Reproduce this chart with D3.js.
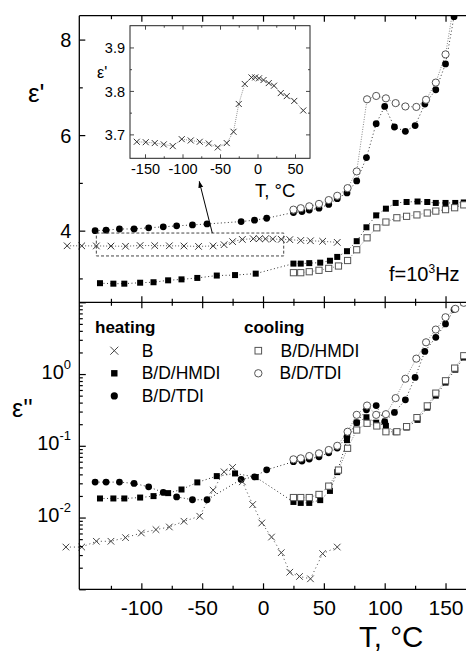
<!DOCTYPE html>
<html>
<head>
<meta charset="utf-8">
<script src="https://cdn.jsdelivr.net/npm/d3@7"></script>
<style>
  html, body { margin: 0; padding: 0; background: #fff; }
  svg { display: block; font-family: "Liberation Sans", Arial, sans-serif; }
</style>
</head>
<body>
<svg id="chart" width="466" height="654"></svg>
<script>
// ---------- data ----------
// B, heating: real part (also shown in the inset)
const tB1 = [-161,-149,-137,-125,-113,-101,-89,-77,-65,-53,-41,-32,-25,-17,-8,-3,2,8,15,22,31,39,49,61];
const epsB1 = [3.683,3.682,3.680,3.677,3.673,3.689,3.686,3.683,3.679,3.670,3.680,3.706,3.770,3.816,3.831,3.831,3.829,3.825,3.818,3.812,3.795,3.788,3.777,3.755];
// B, heating: loss
const tB2 = [-162,-149,-137,-125,-113,-100,-88,-77,-65,-52,-41,-32,-25,-17,-8.5,-1,7,15,22,30,39,49,61];
const epsB2 = [0.00388,0.00388,0.00467,0.00467,0.00525,0.00609,0.00679,0.00739,0.00888,0.01043,0.0241,0.0434,0.0500,0.0315,0.0152,0.0084,0.00535,0.00324,0.00173,0.00151,0.00140,0.00314,0.00388];

// B/D/TDI, heating
const tTDIh = [-138,-129,-118,-106,-94,-82,-71,-58,-46,-18,-7,3,25,32,38,46,54,61,69,77,85,93,100,108,117,125,133,142,150,157];
const eps1TDIh = [4.00,4.01,4.035,4.035,4.06,4.08,4.10,4.12,4.14,4.19,4.22,4.26,4.38,4.40,4.43,4.47,4.55,4.67,4.79,5.04,5.53,6.24,6.60,6.17,6.08,6.20,6.65,6.95,7.49,8.48];
const eps2TDIh = [0.0312,0.0312,0.0312,0.0299,0.0268,0.0224,0.0194,0.0177,0.0177,0.0340,0.0370,0.0463,0.0600,0.0613,0.0654,0.0704,0.0800,0.0931,0.134,0.211,0.317,0.364,0.217,0.292,0.437,0.896,2.07,3.25,5.00,7.93];

// B/D/HMDI, heating
const tHMDIh = [-134,-123,-114,-101,-90,-78,-67,-54,-38,-23,-6,25,31,38,47,55,61,69,77,85,93,101,109,118,127,135,142,150,158,165];
const eps1HMDIh = [2.90,2.89,2.89,2.91,2.92,2.96,2.98,3.01,3.06,3.07,3.10,3.31,3.31,3.32,3.33,3.37,3.45,3.57,3.78,4.07,4.32,4.46,4.58,4.60,4.61,4.60,4.58,4.58,4.58,4.59];
const eps2HMDIh = [0.01845,0.01845,0.01845,0.0190,0.0199,0.0219,0.0246,0.0309,0.0378,0.0412,0.0366,0.0165,0.0160,0.0160,0.0175,0.0235,0.043,0.12,0.21,0.25,0.21,0.19,0.155,0.18,0.23,0.34,0.50,0.76,1.15,1.7];

// B/D/HMDI, cooling
const tHMDIc = [25,31,38,46,54,62,69.5,77,85.5,93.5,101,110,118,126.5,135,142,150,157.5,165];
const eps1HMDIc = [3.12,3.12,3.14,3.17,3.21,3.26,3.375,3.60,3.85,4.06,4.18,4.27,4.30,4.33,4.37,4.41,4.44,4.48,4.54];
const eps2HMDIc = [0.0190,0.0190,0.0190,0.0210,0.0274,0.0459,0.0923,0.166,0.206,0.189,0.157,0.157,0.185,0.247,0.360,0.542,0.806,1.21,1.80];

// B/D/TDI, cooling
const tTDIc = [25,31,38,46,54,61,69.5,77,85.5,93,101,109,117,126,134,142,150,158,165];
const eps1TDIc = [4.44,4.47,4.51,4.56,4.64,4.73,4.89,5.24,6.75,6.82,6.77,6.67,6.60,6.59,6.74,7.10,7.69,8.9,9.6];
const eps2TDIc = [0.0648,0.0669,0.0720,0.0785,0.0874,0.100,0.157,0.270,0.364,0.27,0.276,0.462,0.860,1.64,2.77,4.17,6.19,8.11,9.84];

// axis ticks
const xMajor = [-100,-50,0,50,100,150];
const xMinor = [-125,-75,-25,25,75,125];
const y1Major = [4,6,8];
const y1Minor = [3,5,7];
const y2Labeled = [1e-2,1e-1,1];
const insetXMajor = [-150,-100,-50,0,50];
const insetXMinor = [-125,-75,-25,25];
const insetYMajor = [3.7,3.8,3.9];
const insetYMinor = [3.75,3.85];

// ---------- layout ----------
const svg = d3.select("#chart");
const L = 79.3, TOP = 15.7, MID = 302.3, BOT = 589.3;

const x = d3.scaleLinear().domain([-151, 175]).range([L, L + 326 * 1.2167]);
const yTop = d3.scaleLinear().domain([2.5, 8.5]).range([MID, TOP]);
const yBot = d3.scaleLog().domain([1e-3, 10]).range([BOT, MID]);

const xi = d3.scaleLinear().domain([-170, 70]).range([130, 310]);
const yi = d3.scaleLinear().domain([3.645, 3.95]).range([158.3, 25.7]);

const defs = svg.append("defs");
defs.append("clipPath").attr("id", "clipTop")
  .append("rect").attr("x", 0).attr("y", TOP).attr("width", 466).attr("height", MID - TOP);
defs.append("clipPath").attr("id", "clipBot")
  .append("rect").attr("x", 0).attr("y", MID).attr("width", 466).attr("height", BOT - MID + 10);

// marker helpers
function cross(g, pts, s, color) {
  g.selectAll(null).data(pts).enter().append("path")
    .attr("d", d => `M${d[0]-s},${d[1]-s}L${d[0]+s},${d[1]+s}M${d[0]-s},${d[1]+s}L${d[0]+s},${d[1]-s}`)
    .attr("stroke", color).attr("stroke-width", 1).attr("fill", "none");
}
function squares(g, pts, s, open) {
  g.selectAll(null).data(pts).enter().append("rect")
    .attr("x", d => d[0] - s / 2).attr("y", d => d[1] - s / 2)
    .attr("width", s).attr("height", s)
    .attr("fill", open ? "#fff" : "#000")
    .attr("stroke", open ? "#555" : "none").attr("stroke-width", 1);
}
function circles(g, pts, r, open) {
  g.selectAll(null).data(pts).enter().append("circle")
    .attr("cx", d => d[0]).attr("cy", d => d[1]).attr("r", r)
    .attr("fill", open ? "#fff" : "#000")
    .attr("stroke", open ? "#555" : "none").attr("stroke-width", 1);
}
function dotted(g, pts, color, dash) {
  g.append("path").attr("d", d3.line()(pts))
    .attr("fill", "none").attr("stroke", color).attr("stroke-width", 1)
    .attr("stroke-dasharray", dash);
}
const pts = (ts, vs, sx, sy) => ts.map((t, i) => [sx(t), sy(vs[i])]);

// ---------- upper panel: eps' ----------
const gTop = svg.append("g").attr("clip-path", "url(#clipTop)");
const pB1 = pts(tB1, epsB1, x, yTop);
const pTDIh1 = pts(tTDIh, eps1TDIh, x, yTop);
const pHMDIh1 = pts(tHMDIh, eps1HMDIh, x, yTop);
const pHMDIc1 = pts(tHMDIc, eps1HMDIc, x, yTop);
const pTDIc1 = pts(tTDIc, eps1TDIc, x, yTop);
dotted(gTop, pB1, "#555", "1,2");
dotted(gTop, pTDIh1, "#333", "1,2.5");
dotted(gTop, pHMDIh1, "#333", "1,2.5");
dotted(gTop, pHMDIc1, "#888", "1,1.5");
dotted(gTop, pTDIc1, "#888", "1,1.5");
squares(gTop, pHMDIh1, 6, false);
circles(gTop, pTDIh1, 3.4, false);
squares(gTop, pHMDIc1, 6.2, true);
circles(gTop, pTDIc1, 3.6, true);
cross(gTop, pB1, 3.3, "#333");

// dashed frame around the region that is enlarged in the inset, and its arrow
svg.append("rect")
  .attr("x", x(-137)).attr("y", yTop(3.95))
  .attr("width", x(17) - x(-137)).attr("height", yTop(3.47) - yTop(3.95))
  .attr("fill", "none").attr("stroke", "#444").attr("stroke-width", 1)
  .attr("stroke-dasharray", "3,2");
defs.append("marker").attr("id", "arrowHead").attr("viewBox", "0 0 10 10")
  .attr("refX", 9).attr("refY", 5).attr("markerWidth", 7).attr("markerHeight", 7)
  .attr("orient", "auto")
  .append("path").attr("d", "M0,1.5L10,5L0,8.5z").attr("fill", "#000");
svg.append("line")
  .attr("x1", x(-41.7)).attr("y1", yTop(3.95))
  .attr("x2", x(-52.4)).attr("y2", yTop(5.03))
  .attr("stroke", "#000").attr("stroke-width", 1)
  .attr("marker-end", "url(#arrowHead)");

// ---------- lower panel: eps'' ----------
const gBot = svg.append("g").attr("clip-path", "url(#clipBot)");
const pB2 = pts(tB2, epsB2, x, yBot);
const pTDIh2 = pts(tTDIh, eps2TDIh, x, yBot);
const pHMDIh2 = pts(tHMDIh, eps2HMDIh, x, yBot);
const pHMDIc2 = pts(tHMDIc, eps2HMDIc, x, yBot);
const pTDIc2 = pts(tTDIc, eps2TDIc, x, yBot);
dotted(gBot, pB2, "#444", "1,3");
dotted(gBot, pTDIh2, "#333", "1,2.5");
dotted(gBot, pHMDIh2, "#333", "1,2.5");
dotted(gBot, pHMDIc2, "#888", "1,1.5");
dotted(gBot, pTDIc2, "#888", "1,1.5");
squares(gBot, pHMDIh2, 6, false);
circles(gBot, pTDIh2, 3.4, false);
squares(gBot, pHMDIc2, 6.2, true);
circles(gBot, pTDIc2, 3.6, true);
cross(gBot, pB2, 3.3, "#444");

// ---------- axes ----------
const axisColor = "#000";
function frameLine(x1, y1, x2, y2, w) {
  svg.append("line").attr("x1", x1).attr("y1", y1).attr("x2", x2).attr("y2", y2)
    .attr("stroke", axisColor).attr("stroke-width", w || 1.3);
}
function styleAxis(g, size) {
  g.select(".domain").remove();
  g.selectAll(".tick line").attr("stroke", axisColor).attr("stroke-width", 1.2);
  g.selectAll("text").attr("fill", "#000").attr("font-size", size)
    .attr("font-family", '"Liberation Sans", Arial, sans-serif');
}
frameLine(L, TOP, L, BOT);
frameLine(L, TOP, 466, TOP);
frameLine(L, MID, 466, MID);
frameLine(L, BOT, 466, BOT);

// x ticks on every horizontal frame line (pointing into the panels)
[[BOT, d3.axisBottom], [MID, d3.axisBottom], [MID, d3.axisTop], [TOP, d3.axisTop]].forEach(([yy, ax], i) => {
  const gMaj = svg.append("g").attr("transform", `translate(0,${yy})`)
    .call(ax(x).tickValues(xMajor).tickSize(-6).tickSizeOuter(0)
      .tickPadding(10.5).tickFormat(i === 0 ? (d => String(d)) : () => ""));
  styleAxis(gMaj, 21);
  const gMin = svg.append("g").attr("transform", `translate(0,${yy})`)
    .call(ax(x).tickValues(xMinor).tickSize(-3.5).tickSizeOuter(0).tickFormat(() => ""));
  styleAxis(gMin, 10);
});

// upper panel y axis
const gY1 = svg.append("g").attr("transform", `translate(${L},0)`)
  .call(d3.axisLeft(yTop).tickValues(y1Major).tickSize(-6).tickSizeOuter(0).tickPadding(8).tickFormat(d => String(d)));
styleAxis(gY1, 20);
gY1.selectAll("text").attr("dy", "0.36em");
const gY1m = svg.append("g").attr("transform", `translate(${L},0)`)
  .call(d3.axisLeft(yTop).tickValues(y1Minor).tickSize(-3.5).tickSizeOuter(0).tickFormat(() => ""));
styleAxis(gY1m, 10);

// lower panel log y axis
const logMajor = [1e-3, 1e-2, 1e-1, 1, 10];
const logMinor = [];
[1e-3, 1e-2, 1e-1, 1].forEach(dec => { for (let k = 2; k <= 9; k++) logMinor.push(dec * k); });
const gY2 = svg.append("g").attr("transform", `translate(${L},0)`)
  .call(d3.axisLeft(yBot).tickValues(logMajor).tickSize(-6.5).tickSizeOuter(0).tickFormat(() => ""));
styleAxis(gY2, 10);
const gY2m = svg.append("g").attr("transform", `translate(${L},0)`)
  .call(d3.axisLeft(yBot).tickValues(logMinor).tickSize(-3.5).tickSizeOuter(0).tickFormat(() => ""));
styleAxis(gY2m, 10);
y2Labeled.forEach(v => {
  const t = svg.append("text").attr("x", 71).attr("y", yBot(v) + 4.5)
    .attr("text-anchor", "end").attr("font-size", 20);
  t.append("tspan").text("10");
  t.append("tspan").attr("dy", -10).attr("font-size", 13).text(String(Math.round(Math.log10(v))));
});

// axis titles
svg.append("text").attr("x", 28).attr("y", 102).attr("font-size", 26).text("ε'");
svg.append("text").attr("x", 12).attr("y", 417).attr("font-size", 25).text("ε''");
svg.append("text").attr("x", 359).attr("y", 647).attr("font-size", 29.5).text("T, °C");

// frequency note
const fTxt = svg.append("text").attr("x", 389).attr("y", 281).attr("font-size", 20);
fTxt.append("tspan").text("f=10");
fTxt.append("tspan").attr("dy", -8).attr("font-size", 12).text("3");
fTxt.append("tspan").attr("dy", 8).text("Hz");

// ---------- legend ----------
function legendBlock(x0, title, rows) {
  svg.append("text").attr("x", x0).attr("y", 333.3).attr("font-size", 17)
    .attr("font-weight", "bold").text(title);
  rows.forEach((r, i) => {
    const yy = 356.7 + i * 22.6;
    const mx = r.mx, my = yy - 6;
    const g = svg.append("g");
    if (r.kind === "cross") cross(g, [[mx, my]], 4, "#444");
    if (r.kind === "sq") squares(g, [[mx, my]], 6.4, false);
    if (r.kind === "ci") circles(g, [[mx, my]], 3.6, false);
    if (r.kind === "osq") squares(g, [[mx, my]], 6.6, true);
    if (r.kind === "oci") circles(g, [[mx, my]], 3.7, true);
    svg.append("text").attr("x", r.tx).attr("y", yy).attr("font-size", 17.5).text(r.label);
  });
}
legendBlock(95, "heating", [
  { kind: "cross", mx: 114.3, tx: 141.7, label: "B" },
  { kind: "sq", mx: 114.3, tx: 141.7, label: "B/D/HMDI" },
  { kind: "ci", mx: 114.3, tx: 141.7, label: "B/D/TDI" }
]);
legendBlock(244, "cooling", [
  { kind: "osq", mx: 258.3, tx: 280.5, label: "B/D/HMDI" },
  { kind: "oci", mx: 258.3, tx: 279.5, label: "B/D/TDI" }
]);

// ---------- inset: eps' of B ----------
const gIn = svg.append("g");
gIn.append("rect").attr("x", 130).attr("y", 25.7).attr("width", 180).attr("height", 132.6)
  .attr("fill", "#fff").attr("stroke", "#222").attr("stroke-width", 1);
const pBi = pts(tB1, epsB1, xi, yi);
dotted(gIn, pBi, "#999", "1,1");
cross(gIn, pBi, 3, "#333");

function insetAxis(ax, scale, vals, size, tr, fmt) {
  const g = gIn.append("g").attr("transform", tr)
    .call(ax(scale).tickValues(vals).tickSize(-size).tickSizeOuter(0)
      .tickPadding(5).tickFormat(fmt || (() => "")));
  styleAxis(g, 14.5);
  g.selectAll(".tick line").attr("stroke-width", 0.9).attr("stroke", "#333");
  return g;
}
insetAxis(d3.axisBottom, xi, insetXMajor, 4, "translate(0,158.3)", d => String(d));
insetAxis(d3.axisBottom, xi, insetXMinor, 2, "translate(0,158.3)");
insetAxis(d3.axisTop, xi, insetXMajor, 4, "translate(0,25.7)");
insetAxis(d3.axisTop, xi, insetXMinor, 2, "translate(0,25.7)");
const gyi = insetAxis(d3.axisLeft, yi, insetYMajor, 4, "translate(130,0)", d => d.toFixed(1));
gyi.selectAll("text").attr("dy", "0.36em");
insetAxis(d3.axisLeft, yi, insetYMinor, 2, "translate(130,0)");
insetAxis(d3.axisRight, yi, insetYMajor, 4, "translate(310,0)");
insetAxis(d3.axisRight, yi, insetYMinor, 2, "translate(310,0)");
gIn.append("text").attr("x", 97).attr("y", 78).attr("font-size", 16).text("ε'");
gIn.append("text").attr("x", 255).attr("y", 197).attr("font-size", 18.5).text("T, °C");
</script>
</body>
</html>
